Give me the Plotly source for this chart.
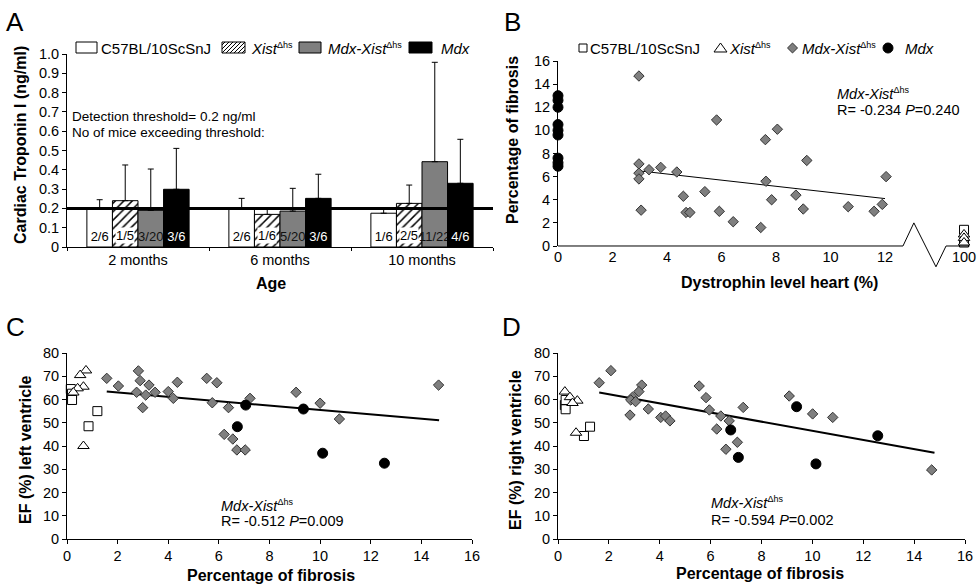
import plotly.graph_objects as go

W, H = 979, 584
FONT = "Arial, 'Liberation Sans', sans-serif"

# ---------------- Panel A data ----------------
age_groups = ["2 months", "6 months", "10 months"]
troponin_c57 = [0.20, 0.20, 0.175]
troponin_c57_sd = [0.045, 0.052, 0.025]
troponin_xist = [0.24, 0.169, 0.226]
troponin_xist_sd = [0.185, 0.026, 0.095]
troponin_mdxxist = [0.19, 0.186, 0.442]
troponin_mdxxist_sd = [0.214, 0.118, 0.515]
troponin_mdx = [0.299, 0.252, 0.33]
troponin_mdx_sd = [0.212, 0.125, 0.228]
exceed_c57 = ["2/6", "2/6", "1/6"]
exceed_xist = ["1/5", "1/6", "2/5"]
exceed_mdxxist = ["3/20", "5/20", "11/22"]
exceed_mdx = ["3/6", "3/6", "4/6"]
detection_threshold = 0.2
troponin_tickvals = [0, 0.1, 0.2, 0.3, 0.4, 0.5, 0.6, 0.7, 0.8, 0.9, 1.0]
troponin_ticktext = ["0", "0.1", "0.2", "0.3", "0.4", "0.5", "0.6", "0.7", "0.8", "0.9", "1.0"]

# ---------------- Panel B data ----------------
b_mdxxist_dys = [2.97, 5.82, 7.61, 8.05, 2.97, 2.97, 2.97, 3.05, 3.34, 3.77, 4.36, 4.60, 4.70,
                 4.84, 5.39, 5.92, 6.43, 7.44, 7.63, 7.84, 8.73, 9.00, 9.13, 10.65, 11.60, 11.90, 12.04]
b_mdxxist_fib = [14.7, 10.9, 9.2, 10.1, 7.1, 6.3, 5.8, 3.1, 6.6, 6.8, 6.4, 4.3, 2.9,
                 2.9, 4.7, 3.0, 2.1, 1.6, 5.6, 4.0, 4.4, 3.2, 7.4, 3.4, 3.0, 3.6, 6.0]
b_mdx_dys = [0, 0, 0, 0, 0, 0, 0, 0, 0]
b_mdx_fib = [13.0, 12.6, 12.0, 10.5, 10.0, 9.6, 7.6, 7.2, 6.9]
b_c57_dys = [100, 100]
b_c57_fib = [1.4, 0.3]
b_xist_dys = [100, 100, 100]
b_xist_fib = [1.0, 0.7, 0.3]
b_trend_dys = [2.97, 12.0]
b_trend_fib = [6.5, 4.1]
b_tickvals = [0, 2, 4, 6, 8, 10, 12, 100]
b_ticktext = ["0", "2", "4", "6", "8", "10", "12", "100"]
b_ytickvals = [0, 2, 4, 6, 8, 10, 12, 14, 16]

# ---------------- Panel C data ----------------
c_c57_fib = [0.15, 0.2, 0.2, 0.85, 1.2]
c_c57_ef = [64.5, 62.5, 59.8, 48.5, 55.0]
c_xist_fib = [0.75, 0.52, 0.65, 0.42, 0.25, 0.65]
c_xist_ef = [72.5, 70.5, 65.5, 64.8, 63.0, 40.0]
c_mdxxist_fib = [1.57, 2.03, 2.82, 2.89, 2.75, 2.99, 3.24, 3.11, 3.48, 4.00, 4.20, 4.36, 5.52,
                 5.92, 5.74, 6.38, 6.21, 6.55, 6.71, 7.04, 7.23, 9.05, 10.0, 10.76, 14.68]
c_mdxxist_ef = [69.1, 65.8, 72.3, 68.1, 63.1, 56.5, 66.2, 61.9, 63.1, 63.4, 60.5, 67.4, 69.1,
                67.2, 58.6, 56.5, 45.0, 43.0, 38.3, 38.3, 60.5, 63.1, 58.4, 51.6, 66.2]
c_mdx_fib = [7.06, 6.73, 9.34, 10.1, 12.54]
c_mdx_ef = [57.6, 48.3, 55.9, 36.9, 32.6]
c_trend_fib = [1.57, 14.7]
c_trend_ef = [63.4, 51.1]

# ---------------- Panel D data ----------------
d_c57_fib = [0.27, 0.3, 0.3, 1.02, 1.26]
d_c57_ef = [57.6, 55.8, 59.8, 44.3, 48.3]
d_xist_fib = [0.27, 0.47, 0.76, 0.57, 0.71]
d_xist_ef = [63.4, 61.0, 59.5, 58.5, 45.7]
d_mdxxist_fib = [1.62, 2.08, 3.29, 3.18, 2.93, 2.86, 3.05, 2.83, 3.55, 4.04, 4.23, 4.40, 5.55,
                 5.82, 5.95, 6.40, 6.24, 6.73, 7.28, 7.05, 6.60, 9.09, 10.01, 10.8, 14.69]
d_mdxxist_ef = [67.2, 72.4, 66.2, 63.4, 61.0, 59.8, 59.1, 53.3, 55.9, 52.3, 52.9, 50.8, 65.8,
                60.8, 55.5, 52.9, 47.3, 50.8, 56.6, 41.6, 38.6, 61.5, 53.8, 52.3, 29.7]
d_mdx_fib = [6.79, 7.09, 9.38, 10.14, 12.57]
d_mdx_ef = [46.9, 35.1, 56.9, 32.3, 44.4]
d_trend_fib = [1.62, 14.8]
d_trend_ef = [63.0, 37.1]
ef_tickvals = [0, 10, 20, 30, 40, 50, 60, 70, 80]
fib_tickvals = [0, 2, 4, 6, 8, 10, 12, 14, 16]

# ---------------- helpers ----------------
BREAK_POS = 14.9   # where the "100" value sits on the broken axis of panel B
B_RANGE = [0, 15.1]
BARGAP = 0.28


def dys_pos(v):
    return v if v <= 12.5 else BREAK_POS


def fx(x):
    return x / W


def fy(y):
    return 1 - y / H


def path_str(points):
    return "M " + " L ".join(f"{fx(x):.5f},{fy(y):.5f}" for x, y in points)


GRAY = "#7f7f7f"
EDGE = "#333333"

fig = go.Figure()

# ---------------- Panel A bars ----------------
bar_specs = [
    (troponin_c57, troponin_c57_sd, exceed_c57, dict(color="white"), "black", True),
    (troponin_xist, troponin_xist_sd, exceed_xist,
     dict(color="white", pattern=dict(shape="/", fgcolor="black", bgcolor="white", size=6, solidity=0.25)),
     "black", False),
    (troponin_mdxxist, troponin_mdxxist_sd, exceed_mdxxist, dict(color=GRAY), "#111111", True),
    (troponin_mdx, troponin_mdx_sd, exceed_mdx, dict(color="black"), "white", True),
]
for vals, sd, txt_, mk, tcol, inside in bar_specs:
    mk = dict(mk)
    mk["line"] = dict(color="black", width=1)
    fig.add_trace(go.Bar(
        x=age_groups, y=vals, text=txt_ if inside else None, textposition="inside",
        insidetextanchor="start",
        constraintext="none", textangle=0, textfont=dict(size=13, color=tcol, family=FONT),
        marker=mk, xaxis="x", yaxis="y", showlegend=False,
        error_y=dict(type="data", symmetric=False, array=sd, arrayminus=[0] * len(sd),
                     color="black", thickness=1, width=3),
    ))


def add_group(xs, ys, ax, symbol, size, fill, line_col, line_w=1):
    fig.add_trace(go.Scatter(
        x=xs, y=ys, mode="markers", xaxis="x" + ax, yaxis="y" + ax, showlegend=False,
        cliponaxis=False,
        marker=dict(symbol=symbol, size=size, color=fill, line=dict(color=line_col, width=line_w)),
    ))


def add_trend(xs, ys, ax, width):
    fig.add_trace(go.Scatter(x=xs, y=ys, mode="lines", xaxis="x" + ax, yaxis="y" + ax,
                             showlegend=False, line=dict(color="black", width=width)))

# Panel B
add_trend(b_trend_dys, b_trend_fib, "2", 1)
add_group([dys_pos(v) for v in b_mdxxist_dys], b_mdxxist_fib, "2", "diamond", 8, GRAY, EDGE)
add_group([dys_pos(v) for v in b_mdx_dys], b_mdx_fib, "2", "circle", 10, "black", "black")
add_group([dys_pos(v) for v in b_c57_dys], b_c57_fib, "2", "square", 9, "white", "black")
add_group([dys_pos(v) for v in b_xist_dys], b_xist_fib, "2", "triangle-up", 10, "white", "black")

# Panel C
add_trend(c_trend_fib, c_trend_ef, "3", 2)
add_group(c_c57_fib, c_c57_ef, "3", "square", 9, "white", "black")
add_group(c_xist_fib, c_xist_ef, "3", "triangle-up", 10, "white", "black")
add_group(c_mdxxist_fib, c_mdxxist_ef, "3", "diamond", 8, GRAY, EDGE)
add_group(c_mdx_fib, c_mdx_ef, "3", "circle", 10, "black", "black")

# Panel D
add_trend(d_trend_fib, d_trend_ef, "4", 2)
add_group(d_c57_fib, d_c57_ef, "4", "square", 9, "white", "black")
add_group(d_xist_fib, d_xist_ef, "4", "triangle-up", 10, "white", "black")
add_group(d_mdxxist_fib, d_mdxxist_ef, "4", "diamond", 8, GRAY, EDGE)
add_group(d_mdx_fib, d_mdx_ef, "4", "circle", 10, "black", "black")

# ---------------- axes ----------------
TICKF = dict(size=14.5, color="black", family=FONT)
common = dict(showgrid=False, zeroline=False, showline=True, linecolor="black", linewidth=1,
              ticks="outside", ticklen=4, tickcolor="black", tickfont=TICKF, automargin=False)

A_LEFT, A_RIGHT = 67, 493
xdA = [fx(A_LEFT), fx(A_RIGHT)]
ydA = [fy(247), fy(54)]
x0B, pxB = 558, 27.25
xdB = [fx(x0B), fx(x0B + B_RANGE[1] * pxB)]
ydB = [fy(246), fy(61)]
xdC = [fx(67), fx(472)]
ydC = [fy(539), fy(353)]
xdD = [fx(558), fx(965)]
ydD = [fy(539), fy(353)]

fig.update_layout(
    template="none",
    width=W, height=H, margin=dict(l=0, r=0, t=0, b=0, pad=0, autoexpand=False),
    paper_bgcolor="white", plot_bgcolor="white",
    font=dict(family=FONT, color="black"),
    showlegend=False,
    barmode="group", bargap=BARGAP, bargroupgap=0,
    xaxis=dict(common, domain=xdA, anchor="y", type="category", tickson="boundaries", ticklen=3),
    yaxis=dict(common, domain=ydA, anchor="x", range=[0, 1.0],
               tickvals=troponin_tickvals, ticktext=troponin_ticktext),
    xaxis2=dict(common, domain=xdB, anchor="y2", range=B_RANGE, showline=False, ticks="",
                tickvals=[dys_pos(v) for v in b_tickvals], ticktext=b_ticktext),
    yaxis2=dict(common, domain=ydB, anchor="x2", range=[0, 16], tickvals=b_ytickvals),
    xaxis3=dict(common, domain=xdC, anchor="y3", range=[0, 16], tickvals=fib_tickvals),
    yaxis3=dict(common, domain=ydC, anchor="x3", range=[0, 80], tickvals=ef_tickvals),
    xaxis4=dict(common, domain=xdD, anchor="y4", range=[0, 16], tickvals=fib_tickvals),
    yaxis4=dict(common, domain=ydD, anchor="x4", range=[0, 80], tickvals=ef_tickvals),
)

shapes = []
shapes.append(dict(type="line", xref="x domain", x0=0, x1=1, yref="y",
                   y0=detection_threshold, y1=detection_threshold,
                   line=dict(color="black", width=3), layer="above"))


def bx(v):
    return x0B + v * pxB


def by(v):
    return 246 - v * (246 - 61) / 16


zig = [(bx(0), by(0)), (bx(12.66), by(0)), (bx(13.06), by(2.0)), (bx(13.87), by(-1.8)),
       (bx(14.24), by(0)), (bx(B_RANGE[1]), by(0))]
shapes.append(dict(type="path", xref="paper", yref="paper", path=path_str(zig),
                   line=dict(color="black", width=1)))


def rect(x0, x1, y0, y1, fill):
    return dict(type="rect", xref="paper", yref="paper", x0=fx(x0), x1=fx(x1), y0=fy(y1), y1=fy(y0),
                fillcolor=fill, line=dict(color="black", width=1))

# legend A
shapes.append(rect(76, 97, 42, 53, "white"))
shapes.append(rect(222, 245, 42, 53, "white"))
hx0, hx1, hy0, hy1 = 222, 245, 42, 53
c = hx0 + hy0 + 3
while c < hx1 + hy1:
    xa = max(hx0, c - hy1)
    xb = min(hx1, c - hy0)
    if xb > xa:
        shapes.append(dict(type="path", xref="paper", yref="paper",
                           path=path_str([(xa, c - xa), (xb, c - xb)]),
                           line=dict(color="black", width=1)))
    c += 4
shapes.append(rect(299, 321, 42, 53, GRAY))
shapes.append(rect(409, 432, 42, 53, "black"))

# legend B
shapes.append(rect(579, 587, 44, 52, "white"))
shapes.append(dict(type="path", xref="paper", yref="paper",
                   path=path_str([(714, 52), (727, 52), (720.5, 43)]) + " Z",
                   fillcolor="white", line=dict(color="black", width=1)))
shapes.append(dict(type="path", xref="paper", yref="paper",
                   path=path_str([(792.5, 43), (797.5, 48), (792.5, 53), (787.5, 48)]) + " Z",
                   fillcolor=GRAY, line=dict(color=EDGE, width=1)))
shapes.append(dict(type="circle", xref="paper", yref="paper", x0=fx(883), x1=fx(893),
                   y0=fy(53), y1=fy(43), fillcolor="black", line=dict(color="black", width=1)))

fig.update_layout(shapes=shapes)

SUP = "<sup><span style='font-size:9px'>Δhs</span></sup>"
XIST = "<i>Xist</i>" + SUP
MDXXIST = "<i>Mdx-Xist</i>" + SUP

anns = []


def txt(x, y, text, size=13.5, xanchor="left", angle=0):
    anns.append(dict(x=fx(x), y=fy(y), xref="paper", yref="paper", text=text, showarrow=False,
                     xanchor=xanchor, yanchor="middle", textangle=angle, borderpad=0,
                     font=dict(size=size, color="black", family=FONT)))

# labels of the hatched bars, on a white box as in the original
cat_px = (A_RIGHT - A_LEFT) / len(age_groups)
bar_px = cat_px * (1 - BARGAP) / 4
for cat, lab in zip(age_groups, exceed_xist):
    anns.append(dict(x=cat, y=0, xref="x", yref="y", text=lab, showarrow=False,
                     xanchor="center", yanchor="bottom", xshift=-bar_px / 2, yshift=3,
                     bgcolor="white", borderpad=0,
                     font=dict(size=13, color="black", family=FONT)))

# panel letters
txt(5, 22, "A", 26)
txt(503, 22, "B", 26)
txt(5, 327, "C", 26)
txt(501, 327, "D", 26)

# legend texts
txt(100, 48, "C57BL/10ScSnJ", 15)
txt(250, 48, XIST, 15)
txt(327, 48, MDXXIST, 15)
txt(440, 48, "<i>Mdx</i>", 15)
txt(589, 48, "C57BL/10ScSnJ", 15)
txt(728, 48, XIST, 15)
txt(801, 48, MDXXIST, 15)
txt(904, 48, "<i>Mdx</i>", 15)

# panel A notes
txt(71, 117, "Detection threshold= 0.2 ng/ml", 13.5)
txt(71, 132, "No of mice exceeding threshold:", 13.5)

# stats
txt(836, 94, MDXXIST, 14.5)
txt(836, 110, "R= -0.234 <i>P</i>=0.240", 14.5)
txt(220, 505, MDXXIST, 14.5)
txt(220, 521, "R= -0.512 <i>P</i>=0.009", 14.5)
txt(710, 503, MDXXIST, 14.5)
txt(710, 520, "R= -0.594 <i>P</i>=0.002", 14.5)

# axis titles
txt(20, 145, "<b>Cardiac Troponin I (ng/ml)</b>", 16, "center", -90)
txt(271, 283, "<b>Age</b>", 16, "center")
txt(513, 140, "<b>Percentage of fibrosis</b>", 16, "center", -90)
txt(779, 282, "<b>Dystrophin level heart (%)</b>", 16, "center")
txt(25, 450, "<b>EF (%) left ventricle</b>", 16, "center", -90)
txt(271, 575, "<b>Percentage of fibrosis</b>", 16, "center")
txt(515, 450, "<b>EF (%) right ventricle</b>", 16, "center", -90)
txt(760, 573, "<b>Percentage of fibrosis</b>", 16, "center")

fig.update_layout(annotations=anns)

fig.write_html("out.html", config={"displayModeBar": False},
               post_script="document.body.style.margin='0';document.body.style.overflow='hidden';")
